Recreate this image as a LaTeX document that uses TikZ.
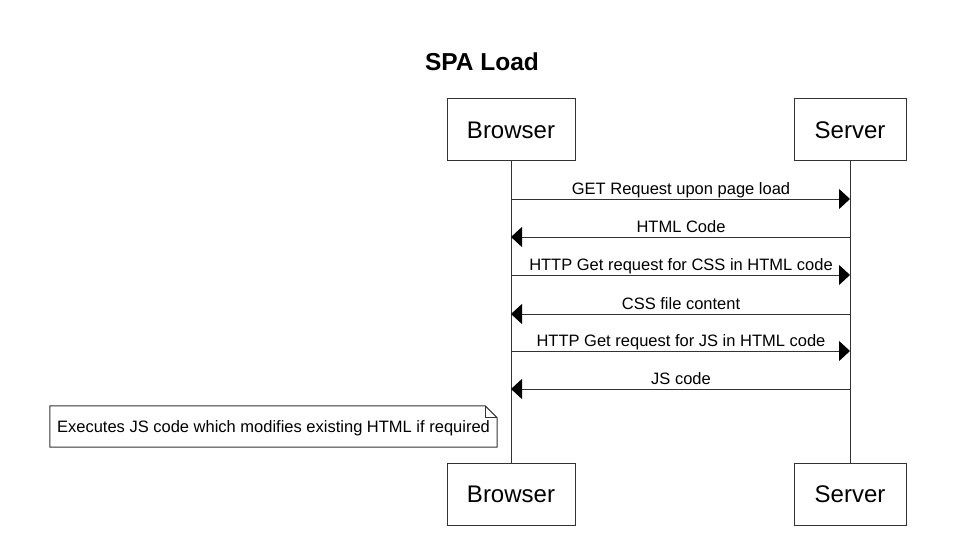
\documentclass[tikz,border=0pt]{standalone}
\usepackage{fontspec}
\setmainfont{Liberation Sans}
\usetikzlibrary{arrows.meta}
\tikzset{
  actor/.style={draw=black!80, line width=1pt, minimum height=62pt, inner sep=0pt, font=\fontsize{24}{28}\selectfont},
  msg/.style={draw=black!80, line width=1pt, -{Triangle[length=11pt,width=20pt,color=black]}},
  lbl/.style={inner sep=0pt, anchor=base, font=\fontsize{16.5}{19}\selectfont},
}
\begin{document}
\begin{tikzpicture}[x=1pt,y=-1pt]
\useasboundingbox (0,0) rectangle (957,540);
%title
\node[font=\bfseries\fontsize{24.5}{28}\selectfont] (title) at (482,62) {SPA Load};
%actors
\node[actor,minimum width=128pt] (bt) at (511,130) {Browser};
\node[actor,minimum width=112pt] (st) at (850,130) {Server};
\node[actor,minimum width=128pt] (bb) at (511,494) {Browser};
\node[actor,minimum width=112pt] (sb) at (850,494) {Server};
%lifelines
\draw[black!80,line width=1pt] (bt.south) -- (bb.north);
\draw[black!80,line width=1pt] (st.south) -- (sb.north);
%requests
\foreach \i/\y/\txt in {1/199/GET Request upon page load,3/275/HTTP Get request for CSS in HTML code,5/351/HTTP Get request for JS in HTML code}{
  \coordinate (b\i) at (511,\y);
  \coordinate (s\i) at (850,\y);
  \draw[msg] (b\i) -- (s\i);
  \node[lbl] (m\i) at (681,\y-5) {\txt};
}
%responses
\foreach \i/\y/\txt in {2/237/HTML Code,4/314/CSS file content,6/389/JS code}{
  \coordinate (b\i) at (511,\y);
  \coordinate (s\i) at (850,\y);
  \draw[msg] (s\i) -- (b\i);
  \node[lbl] (m\i) at (681,\y-5) {\txt};
}
%note
\node[minimum width=447pt,minimum height=41pt,inner sep=0pt,text depth=0pt,font=\fontsize{16.5}{19}\selectfont] (note) at (273.5,426.5) {Executes JS code which modifies existing HTML if required};
\draw[black!80,line width=1pt] (note.north west) -- ([xshift=-12pt]note.north east) -- ([yshift=-12pt]note.north east) -- (note.south east) -- (note.south west) -- cycle;
\draw[black!80,line width=1pt] ([xshift=-12pt]note.north east) |- ([yshift=-12pt]note.north east);
\end{tikzpicture}
\end{document}
